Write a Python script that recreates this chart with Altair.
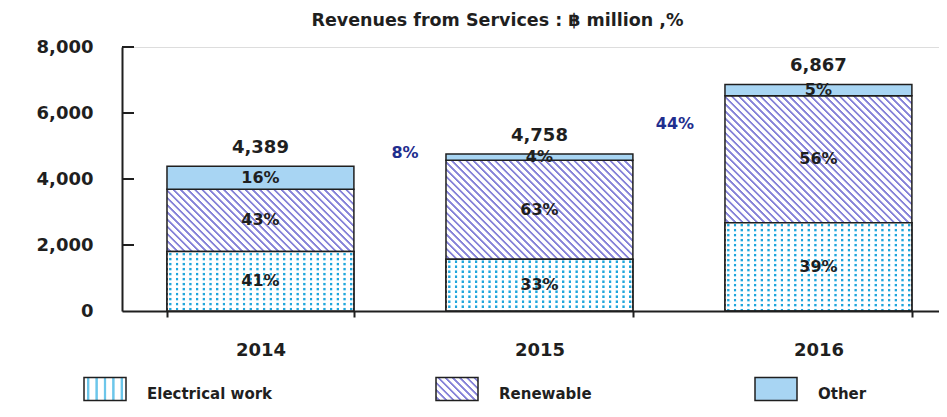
import json
import altair as alt
import pandas as pd

# ---------------- data ----------------
years = ["2014", "2015", "2016"]
categories = ["Electrical work", "Renewable", "Other"]
electrical = [1800, 1570, 2678]
renewable = [1887, 2998, 3846]
other = [702, 190, 343]
pct_electrical = ["41%", "33%", "39%"]
pct_renewable = ["43%", "63%", "56%"]
pct_other = ["16%", "4%", "5%"]
totals = [4389, 4758, 6867]
growth_years = ["2015", "2016"]
growth_labels = ["8%", "44%"]
y_ticks = [0, 2000, 4000, 6000, 8000]

# ---------------- styling ----------------
FONT = "DejaVu Sans"
INK = "#1f1f1f"
W, H = 817, 264
Y_MAX = 8000
P_IN, P_OUT, ALIGN = 0.33, 0.1292, 0.624
STEP = W / (3 - P_IN + 2 * P_OUT)
BAR_W = STEP * (1 - P_IN)
HATCH = "#8683d8"
DOT = "#1fa6dc"
OTHER = "#a8d5f3"


def px(v):
    return v * H / Y_MAX


def stripe_stops(length, period, width, line, bg, ramp=0.8):
    stops = [{"offset": 0, "color": bg}]
    s = -period
    while s < length + period:
        c = s + period / 2
        for pos, col in ((c - width / 2 - ramp / 2, bg), (c - width / 2 + ramp / 2, line),
                         (c + width / 2 - ramp / 2, line), (c + width / 2 + ramp / 2, bg)):
            t = pos / length
            if 0 < t < 1 and t >= stops[-1]["offset"]:
                stops.append({"offset": round(t, 5), "color": col})
        s += period
    stops.append({"offset": 1, "color": bg})
    return stops


def hatch(w, h):
    r = h / w
    k = (1 + r) / (1 + r * r)
    return {"gradient": "linear", "x1": 0, "y1": 1, "x2": round(k, 5), "y2": round(1 - k * r, 5),
            "stops": stripe_stops(w + h, 7.2, 2.6, HATCH, "#ffffff")}


def vstripes(w, color, period=6.7, width=2.3):
    return {"gradient": "linear", "x1": 0, "y1": 0, "x2": 1, "y2": 0,
            "stops": stripe_stops(w, period, width, color, "#ffffff")}


def hmask(h):
    return {"gradient": "linear", "x1": 0, "y1": 0, "x2": 0.000001, "y2": 1,
            "stops": stripe_stops(h, 5.0, 2.5, "rgba(255,255,255,0)", "#ffffff")}


rows = []
for i, yr in enumerate(years):
    for ci, (cat, vals, pcts) in enumerate(zip(categories, [electrical, renewable, other],
                                                [pct_electrical, pct_renewable, pct_other])):
        rows.append({"year": yr, "cat": cat, "value": vals[i], "label": pcts[i], "ord": ci})
df = pd.DataFrame(rows)
tot_df = pd.DataFrame({"year": years, "total": totals})
g_mid = [(totals[i] + totals[i + 1]) / 2 for i in range(len(growth_years))]
g_df = pd.DataFrame({"year": growth_years, "label": growth_labels, "mid": g_mid})
tick_df = pd.DataFrame({"tick": y_ticks[1:]})

# ---------------- encodings ----------------
x_enc = alt.X("year:N", scale=alt.Scale(paddingInner=P_IN, paddingOuter=P_OUT, align=ALIGN),
              axis=alt.Axis(title=None, labelAngle=0, tickBand="extent", tickSize=6, tickWidth=2,
                            tickColor=INK, domainColor=INK, domainWidth=2, labelFont=FONT,
                            labelFontSize=18, labelFontWeight="bold", labelColor=INK,
                            labelPadding=24))
y_scale = alt.Scale(domain=[0, Y_MAX])
y_axis = alt.Axis(values=y_ticks, labelExpr="format(datum.value, ',')", title=None, grid=False,
                  tickSize=0, labelPadding=29, domainColor=INK, domainWidth=2, labelFont=FONT,
                  labelFontSize=18, labelFontWeight="bold", labelColor=INK)

conds = [{"test": "datum.cat === 'Electrical work'", "value": vstripes(BAR_W, DOT)}]
for i, yr in enumerate(years):
    conds.append({"test": f"datum.cat === 'Renewable' && datum.year == '{yr}'",
                  "value": hatch(BAR_W, px(renewable[i]))})

legend_range = [{"expr": json.dumps(vstripes(42, "#6cc6ea", period=8.4, width=2.4))},
                {"expr": json.dumps(hatch(42, 23))},
                OTHER]

fill_def = alt.Fill(
    "cat:N",
    scale=alt.Scale(domain=categories, range=legend_range),
    condition=conds,
    legend=alt.Legend(title=None, orient="none", legendX=-39, legendY=325, direction="horizontal",
                      symbolType="M-1,-0.80H1V0.295H-1Z", symbolSize=1764,
                      symbolStrokeColor=INK, symbolStrokeWidth=1.5, symbolOpacity=1,
                      labelFont=FONT, labelFontSize=15, labelFontWeight="bold", labelColor=INK,
                      labelOffset=20, labelBaseline="middle", columnPadding=160, padding=0,
                      labelLimit=300),
)

bars = alt.Chart(df).mark_bar(stroke=INK, strokeWidth=1.5).encode(
    x=x_enc,
    y=alt.Y("value:Q", stack="zero", scale=y_scale, axis=y_axis),
    fill=fill_def,
    order=alt.Order("ord:Q", sort="ascending"),
)

mask_conds = [{"test": f"datum.year == '{yr}'", "value": hmask(px(electrical[i]))}
              for i, yr in enumerate(years)]
dots_mask = alt.Chart(df).transform_filter("datum.cat === 'Electrical work'").mark_bar(
    stroke=INK, strokeWidth=1.5).encode(
    x=alt.X("year:N"),
    y=alt.Y("value:Q"),
    fill={"condition": mask_conds, "value": "transparent"},
)

seg_text = alt.Chart(df).transform_stack(
    stack="value", groupby=["year"], as_=["y0", "y1"], sort=[alt.SortField("ord", order="ascending")]
).transform_calculate(mid="(datum.y0 + datum.y1) / 2").mark_text(
    font=FONT, fontSize=16, fontWeight="bold", color=INK).encode(
    x=alt.X("year:N"), y=alt.Y("mid:Q"), text="label:N")

tot_text = alt.Chart(tot_df).mark_text(
    font=FONT, fontSize=18, fontWeight="bold", color=INK, baseline="alphabetic", dy=-13).encode(
    x=alt.X("year:N"), y=alt.Y("total:Q"), text=alt.Text("total:Q", format=","))

g1 = alt.Chart(g_df).transform_filter(f"datum.year == '{growth_years[0]}'").mark_text(
    font=FONT, fontSize=16, fontWeight="bold", color="#1f2e8e", dx=-41, dy=-7).encode(
    x=alt.X("year:N", bandPosition=0), y=alt.Y("mid:Q"), text="label:N")
g2 = alt.Chart(g_df).transform_filter(f"datum.year == '{growth_years[1]}'").mark_text(
    font=FONT, fontSize=16, fontWeight="bold", color="#1f2e8e", dx=-50, dy=5).encode(
    x=alt.X("year:N", bandPosition=0), y=alt.Y("mid:Q"), text="label:N")

ticks = alt.Chart(tick_df).mark_rule(color=INK, strokeWidth=2).encode(
    y=alt.Y("tick:Q"), x=alt.value(0), x2=alt.value(12))

chart = alt.layer(bars, dots_mask, seg_text, tot_text, g1, g2, ticks).properties(
    width=W, height=H,
    padding={"left": 114, "top": 39, "right": 0, "bottom": 94},
    autosize=alt.AutoSizeParams(type="none"),
    title=alt.Title("Revenues from Services : ฿ million ,%", font=FONT, fontSize=17.5,
                    fontWeight="bold", color=INK, anchor="middle", frame="group", dx=-33,
                    offset=9),
).configure_view(stroke="transparent").configure(background="white")

chart.save("out.html", embed_options={"renderer": "svg", "actions": False})
